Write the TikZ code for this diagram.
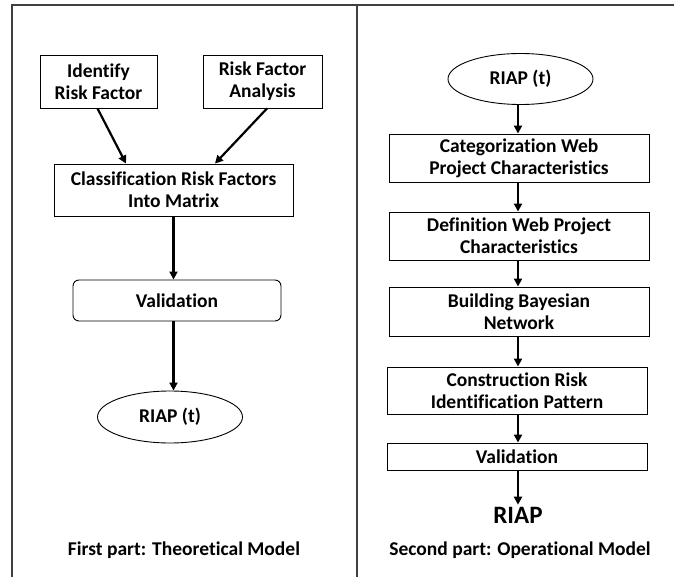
\documentclass[tikz,border=0pt]{standalone}
\usepackage{fontspec}
\setmainfont{Carlito}[Ligatures={NoCommon}]
\usetikzlibrary{arrows.meta,shapes.geometric,calc}

\tikzset{
  lbl/.style={font=\fontsize{19.5}{22}\selectfont\bfseries, align=center, inner sep=0pt},
  procbox/.style={lbl, draw, line width=0.9pt, rectangle},
  roundbox/.style={procbox, rounded corners=6pt},
  ovalbox/.style={lbl, draw, line width=0.9pt, ellipse},
  arr/.style={line width=2.2pt, -{Triangle[length=8pt,width=8pt]}},
  frame/.style={line width=1.4pt, draw=black!75},
  caption/.style={font=\fontsize{19.5}{22}\selectfont\bfseries, inner sep=0pt}
}

\begin{document}
\begin{tikzpicture}[x=1pt, y=-1pt]
  \useasboundingbox (0,0) rectangle (674,577);

  % outer frame and column divider
  \draw[frame] (12,577) -- (12,5) -- (674,5);
  \draw[frame] (357,5) -- (357,577);

  % ---- theoretical model ----
  \node[procbox, minimum width=117pt, minimum height=53pt] (idf) at (98.5,81.5) {Identify\\Risk Factor};
  \node[procbox, minimum width=119pt, minimum height=53pt] (rfa) at (262.5,81.5) {Risk Factor\\Analysis};
  \node[procbox, minimum width=239pt, minimum height=52pt] (cls) at (173.5,190) {Classification Risk Factors\\Into Matrix};
  \node[roundbox, minimum width=208pt, minimum height=41pt] (val1) at (177,300.5) {Validation};
  \node[ovalbox, minimum width=145pt, minimum height=52pt] (riap1) at (170,417) {RIAP (t)};

  \draw[arr] ([xshift=-1pt]idf.south) -- ([xshift=-47.5pt]cls.north);
  \draw[arr] ([xshift=4.5pt]rfa.south) -- ([xshift=41.5pt]cls.north);
  \draw[arr] (cls.south) -- (cls.south |- val1.north);
  \draw[arr] (val1.south -| cls.south) -- (cls.south |- riap1.north);

  \node[caption] (cap1) at (184,550) {First part: Theoretical Model};

  % ---- operational model ----
  \node[ovalbox, minimum width=145pt, minimum height=51pt] (riap2) at (520.5,79) {RIAP (t)};
  \node[procbox, minimum width=260pt, minimum height=48pt] (cat) at (519,158) {Categorization Web\\Project Characteristics};
  \node[procbox, minimum width=260pt, minimum height=48pt] (def) at (519,236) {Definition Web Project\\Characteristics};
  \node[procbox, minimum width=260pt, minimum height=49pt] (bbn) at (519,311.5) {Building Bayesian\\Network};
  \node[procbox, minimum width=260pt, minimum height=47pt] (crip) at (517,390.5) {Construction Risk\\Identification Pattern};
  \node[procbox, minimum width=260pt, minimum height=27pt] (val2) at (517,456.5) {Validation};
  \node[font=\fontsize{25}{28}\selectfont\bfseries, inner sep=2pt] (riap3) at (518,515) {RIAP};

  \coordinate (spine) at (518,0);
  \draw[arr] (riap2.south -| spine) -- (cat.north -| spine);
  \draw[arr] (cat.south -| spine) -- (def.north -| spine);
  \draw[arr] (def.south -| spine) -- (bbn.north -| spine);
  \draw[arr] (bbn.south -| spine) -- (crip.north -| spine);
  \draw[arr] (crip.south -| spine) -- (val2.north -| spine);
  \draw[arr] (val2.south -| spine) -- (riap3.north -| spine);

  \node[caption] (cap2) at (520,550) {Second part: Operational Model};
\end{tikzpicture}
\end{document}
